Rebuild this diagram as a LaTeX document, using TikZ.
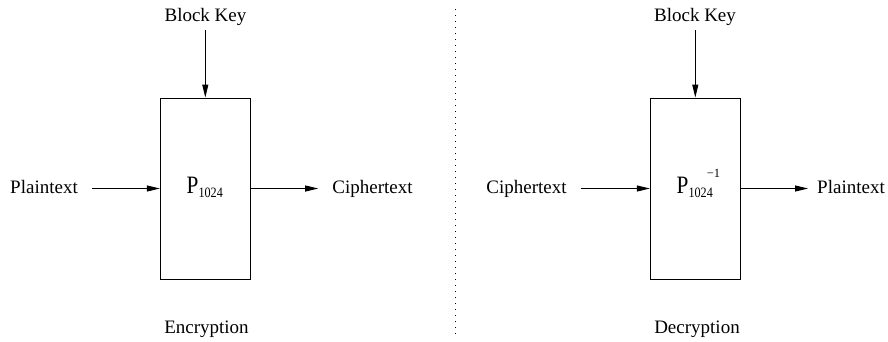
\documentclass[tikz,border=0pt]{standalone}
\usepackage{graphicx}
\usepackage{fontspec}
\setmainfont{Liberation Serif}
\newfontfamily\myserif{Liberation Serif}
\usetikzlibrary{arrows.meta}
\newcommand{\myPbig}{\scalebox{0.85}[1]{\fontsize{25}{25}\selectfont P}}
\newcommand{\mySub}{\raisebox{-4pt}{\scalebox{0.85}[1]{\fontsize{14.3}{14}\selectfont 1024}}}
\newcommand{\mySup}{\raisebox{16pt}{\fontsize{12.5}{12}\selectfont \char"2212 1}}
\begin{document}
\begin{tikzpicture}[x=1pt,y=-1pt,
  lbl/.style={font=\myserif\fontsize{19}{22}\selectfont, inner xsep=14pt, inner ysep=0pt, anchor=base},
  plbl/.style={font=\myserif, inner sep=0pt, anchor=base west},
  blk/.style={draw, line width=0.9pt, minimum width=90pt, minimum height=181pt, inner sep=0pt},
  arr/.style={line width=0.9pt, -{Triangle[length=13pt,width=6pt]}},
  sep/.style={line width=1pt, dash pattern=on 1pt off 5pt},
]
\useasboundingbox (0,0) rectangle (888,341);
% Encryption
\node[blk] (b1) at (205.3,188.5) {};
\node[lbl] (k1) at (205.5,21) {Block Key};
\node[lbl] (p1) at (44,193) {Plaintext};
\node[lbl] (c1) at (372.5,193) {Ciphertext};
\node[lbl] (e1) at (206.5,333) {Encryption};
\node[plbl] (f1) at (186.5,193) {\myPbig\mySub};
\coordinate (k1s) at (205.3,30);
\draw[arr] (k1s) -- (b1.north);
\draw[arr] (p1.east |- b1.west) -- (b1.west);
\draw[arr] (b1.east) -- (c1.west |- b1.east);
% separator
\coordinate (d1) at (455,9);
\coordinate (d2) at (455,338);
\draw[sep] (d1) -- (d2);
% Decryption
\node[blk] (b2) at (695.3,188.5) {};
\node[lbl] (k2) at (695,21) {Block Key};
\node[lbl] (c2) at (526.5,193) {Ciphertext};
\node[lbl, inner xsep=9pt] (p2) at (851,193) {Plaintext};
\node[lbl] (e2) at (697,333) {Decryption};
\node[plbl] (f2) at (676.5,193) {\myPbig\mySub\hspace{-6pt}\mySup};
\coordinate (k2s) at (695.3,30);
\draw[arr] (k2s) -- (b2.north);
\draw[arr] (c2.east |- b2.west) -- (b2.west);
\draw[arr] (b2.east) -- (p2.west |- b2.east);
\end{tikzpicture}
\end{document}
